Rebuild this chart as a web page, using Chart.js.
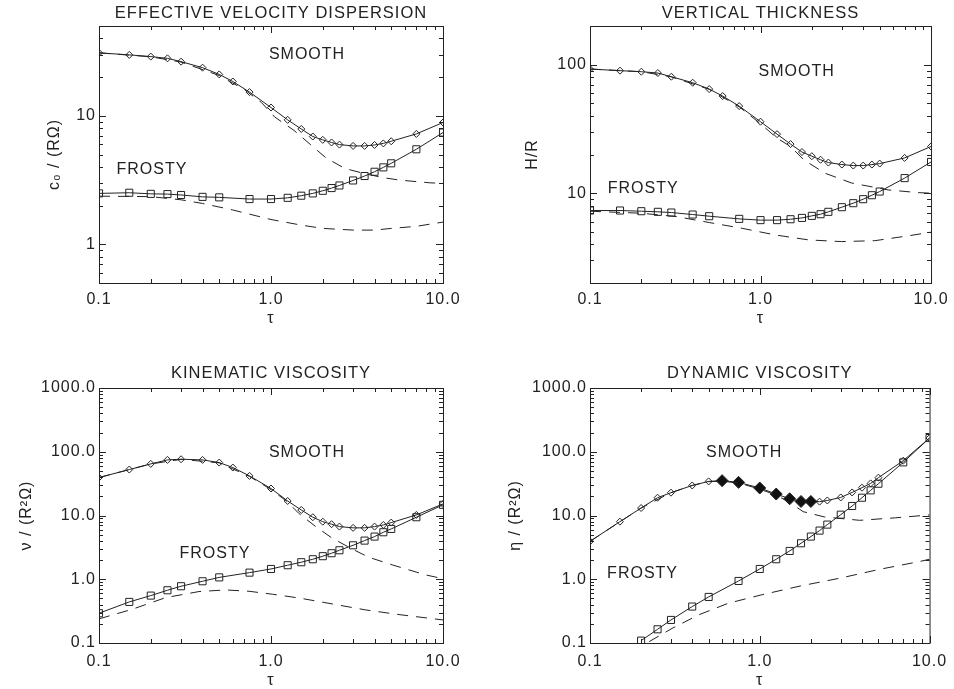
<!DOCTYPE html>
<html>
<head>
<meta charset="utf-8">
<script src="https://cdn.jsdelivr.net/npm/chart.js@4"></script>
<style>
  html, body { margin: 0; padding: 0; background: #fff; overflow: hidden; }
  body { width: 954px; height: 689px; position: relative; }
  canvas { position: absolute; }
</style>
</head>
<body>
<canvas id="vel" width="477" height="335" style="left:0;top:0"></canvas>
<canvas id="thick" width="477" height="335" style="left:477px;top:0"></canvas>
<canvas id="kin" width="477" height="351" style="left:0;top:344px"></canvas>
<canvas id="dyn" width="477" height="351" style="left:477px;top:344px"></canvas>
<script>
// tau samples of the simulations
const tauSmooth = [0.1, 0.15, 0.2, 0.25, 0.3, 0.4, 0.5, 0.6, 0.75, 1.0, 1.25, 1.5, 1.75, 2.0, 2.25, 2.5, 3.0, 3.5, 4.0, 4.5, 5.0, 7.0, 10.0];
const tauFrosty = [0.1, 0.15, 0.2, 0.25, 0.3, 0.4, 0.5, 0.75, 1.0, 1.25, 1.5, 1.75, 2.0, 2.25, 2.5, 3.0, 3.5, 4.0, 4.5, 5.0, 7.0, 10.0];
const tauFrostyDyn = [0.2, 0.25, 0.3, 0.4, 0.5, 0.75, 1.0, 1.25, 1.5, 1.75, 2.0, 2.25, 2.5, 3.0, 3.5, 4.0, 4.5, 5.0, 7.0, 10.0];
const tauFilledDyn = [0.6, 0.75, 1.0, 1.25, 1.5, 1.75, 2.0];

// tick labels
const xMajor = [0.1, 1, 10];
const xLabels = ['0.1', '1.0', '10.0'];
const velMajor = [1, 10];
const velLabels = ['1', '10'];
const thickMajor = [10, 100];
const thickLabels = ['10', '100'];
const viscMajor = [0.1, 1, 10, 100, 1000];
const viscLabels = ['0.1', '1.0', '10.0', '100.0', '1000.0'];

// effective velocity dispersion
const velSmooth = [30.9, 29.8, 28.9, 28.0, 26.4, 23.7, 21.0, 18.5, 15.3, 11.6, 9.3, 7.9, 6.9, 6.5, 6.2, 5.97, 5.83, 5.83, 5.93, 6.1, 6.34, 7.23, 8.87];
const velFrosty = [2.49, 2.52, 2.47, 2.46, 2.42, 2.34, 2.32, 2.25, 2.25, 2.30, 2.39, 2.49, 2.61, 2.74, 2.87, 3.14, 3.40, 3.67, 3.97, 4.27, 5.49, 7.41];
const velSmoothModelTau = [0.1, 0.2, 0.3, 0.5, 0.7, 0.88, 1.05, 1.36, 1.69, 2.09, 2.69, 3.5, 4.5, 5.6, 8.4, 10];
const velSmoothModel = [30.9, 28.8, 26.2, 20.6, 16.0, 12.7, 9.8, 7.7, 6.0, 4.7, 3.89, 3.55, 3.3, 3.16, 3.01, 2.98];
const velFrostyModelTau = [0.1, 0.2, 0.3, 0.4, 0.6, 1.0, 1.5, 2.0, 3.0, 4.0, 5.0, 7.0, 10.0];
const velFrostyModel = [2.37, 2.35, 2.22, 2.08, 1.85, 1.56, 1.41, 1.33, 1.29, 1.29, 1.33, 1.38, 1.49];

// vertical thickness
const thickSmooth = [92.5, 89.8, 88.2, 86.1, 80.6, 72.4, 64.6, 57.0, 47.6, 36.0, 28.8, 24.1, 20.9, 19.4, 18.2, 17.3, 16.7, 16.4, 16.4, 16.7, 17.0, 18.8, 23.1];
const thickFrosty = [7.33, 7.33, 7.24, 7.16, 7.07, 6.82, 6.62, 6.31, 6.17, 6.17, 6.27, 6.42, 6.66, 6.86, 7.16, 7.78, 8.36, 8.98, 9.64, 10.3, 13.1, 17.5];
const thickSmoothModelTau = [0.1, 0.2, 0.3, 0.5, 0.75, 1.0, 1.25, 1.5, 1.79, 2.39, 3.42, 5.6, 8.4, 10];
const thickSmoothModel = [92.5, 88.2, 80.4, 64.3, 47.0, 34.7, 26.8, 23.1, 18.2, 14.3, 12.0, 10.6, 10.1, 10.0];
const thickFrostyModelTau = [0.1, 0.2, 0.32, 0.5, 0.78, 1.22, 1.91, 2.99, 4.68, 7.31, 10];
const thickFrostyModel = [7.24, 6.98, 6.58, 5.91, 5.33, 4.73, 4.33, 4.20, 4.27, 4.65, 4.97];

// kinematic viscosity
const kinSmooth = [39.4, 52.6, 64.5, 74.5, 76.3, 74.5, 67.6, 56.5, 41.8, 26.5, 16.9, 12.2, 9.4, 8.0, 7.3, 6.7, 6.4, 6.4, 6.7, 7.1, 7.74, 10.2, 15.2];
const kinFrosty = [0.293, 0.441, 0.554, 0.672, 0.777, 0.93, 1.07, 1.27, 1.45, 1.66, 1.85, 2.06, 2.30, 2.56, 2.85, 3.41, 4.04, 4.67, 5.46, 6.16, 9.39, 14.7];
const kinSmoothModelTau = [0.1, 0.2, 0.3, 0.5, 0.75, 1.0, 1.25, 1.45, 1.82, 2.27, 2.98, 3.71, 5.07, 7.93, 10];
const kinSmoothModel = [39.4, 64.3, 76.0, 67.0, 41.0, 25.5, 16.3, 10.8, 6.7, 4.4, 2.96, 2.21, 1.68, 1.17, 1.02];
const kinFrostyModelTau = [0.1, 0.156, 0.244, 0.381, 0.545, 0.745, 1.02, 1.45, 2.27, 3.56, 5.55, 10];
const kinFrostyModel = [0.239, 0.338, 0.515, 0.641, 0.68, 0.648, 0.582, 0.509, 0.41, 0.33, 0.279, 0.23];

// dynamic viscosity
const dynSmooth = [3.93, 8.0, 13.1, 19.0, 22.8, 29.6, 34.3, 35.2, 33.1, 27.0, 21.7, 18.3, 16.6, 16.6, 16.5, 17.2, 19.2, 23.0, 27.3, 31.9, 39.2, 72.4, 164];
const dynFrosty = [0.109, 0.164, 0.230, 0.373, 0.528, 0.94, 1.45, 2.06, 2.78, 3.67, 4.67, 5.8, 7.2, 10.3, 14.1, 19.0, 24.8, 31.5, 68.1, 164];
const dynSmoothModelTau = [0.1, 0.2, 0.3, 0.4, 0.5, 0.6, 0.75, 1.0, 1.25, 1.5, 1.8, 2.4, 3.88, 6.3, 10];
const dynSmoothModel = [3.93, 13.1, 22.8, 29.6, 34.0, 34.5, 32.3, 26.0, 20.8, 16.0, 11.5, 9.5, 8.4, 9.2, 10.2];
const dynFrostyModelTau = [0.223, 0.305, 0.436, 0.652, 1.02, 1.74, 2.97, 5.07, 8.67, 10];
const dynFrostyModel = [0.105, 0.170, 0.276, 0.42, 0.568, 0.786, 1.04, 1.43, 1.89, 2.06];

const INK = '#222';
const FAMILY = "'Liberation Sans', Arial, Helvetica, sans-serif";
const FONT = { family: FAMILY, size: 16, weight: 'normal' };
const TITLE_FONT = { family: FAMILY, size: 16.5, weight: 'normal' };

const pts = (taus, vals) => taus.map((t, i) => ({ x: t, y: vals[i] }));
const near = (a, b) => Math.abs(a - b) / b < 1e-6;

// 1..9 x 10^n ticks between min and max
function decadeTicks(min, max) {
  const out = [];
  for (let e = Math.floor(Math.log10(min)); e <= Math.ceil(Math.log10(max)); e++) {
    for (let k = 1; k <= 9; k++) {
      const v = k * Math.pow(10, e);
      if (v >= min * 0.999 && v <= max * 1.001) out.push({ value: v, major: k === 1 });
    }
  }
  return out;
}

// IDL style box: frame and inward ticks on all four sides, plus text notes
function idlBox(notes) {
  return {
    id: 'idlBox',
    beforeDraw(chart) { chart.ctx.letterSpacing = '1px'; },
    afterDraw(chart) {
      const { ctx, chartArea: a, scales: { x, y } } = chart;
      ctx.save();
      ctx.strokeStyle = INK;
      ctx.lineWidth = 1;
      ctx.strokeRect(a.left + 0.5, a.top + 0.5, a.right - a.left, a.bottom - a.top);
      ctx.beginPath();
      x.ticks.forEach(t => {
        const px = Math.round(x.getPixelForValue(t.value)) + 0.5;
        const len = t.major ? 7 : 4;
        ctx.moveTo(px, a.bottom); ctx.lineTo(px, a.bottom - len);
        ctx.moveTo(px, a.top); ctx.lineTo(px, a.top + len);
      });
      y.ticks.forEach(t => {
        const py = Math.round(y.getPixelForValue(t.value)) + 0.5;
        const len = t.major ? 7 : 4;
        ctx.moveTo(a.left, py); ctx.lineTo(a.left + len, py);
        ctx.moveTo(a.right, py); ctx.lineTo(a.right - len, py);
      });
      ctx.stroke();
      ctx.fillStyle = INK;
      ctx.font = `${FONT.size}px ${FAMILY}`;
      ctx.textAlign = 'center';
      ctx.textBaseline = 'middle';
      notes.forEach(n => ctx.fillText(n.text, x.getPixelForValue(n.tau), y.getPixelForValue(n.value)));
      ctx.restore();
      ctx.letterSpacing = '0px';
    }
  };
}

const dashed = data => ({
  data, borderColor: INK, borderWidth: 1, borderDash: [11, 8], pointRadius: 0, fill: false
});
const diamonds = (data, filledTaus = []) => ({
  data, borderColor: INK, borderWidth: 1, pointStyle: 'rectRot',
  pointRadius: c => filledTaus.some(t => near(c.raw.x, t)) ? 6 : 3.5,
  pointBackgroundColor: c => filledTaus.some(t => near(c.raw.x, t)) ? '#111' : 'rgba(0,0,0,0)',
  pointBorderColor: INK, pointBorderWidth: 1, fill: false
});
const squares = data => ({
  data, borderColor: INK, borderWidth: 1, pointStyle: 'rect', pointRadius: 5,
  pointBackgroundColor: 'rgba(0,0,0,0)', pointBorderColor: INK, pointBorderWidth: 1, fill: false
});

function makePanel(id, p) {
  const labelFor = (major, labels) => v => {
    const i = major.findIndex(m => near(v, m));
    return i >= 0 ? labels[i] : '';
  };
  return new Chart(document.getElementById(id), {
    type: 'line',
    data: { datasets: p.datasets },
    options: {
      responsive: false,
      animation: false,
      events: [],
      layout: { padding: { left: 0, right: p.padRight, top: 0, bottom: 0 } },
      plugins: {
        legend: { display: false },
        tooltip: { enabled: false },
        title: {
          display: true, text: p.title, color: INK, font: TITLE_FONT, fullSize: false,
          padding: { top: p.titleTop, bottom: p.titleBottom }
        }
      },
      scales: {
        x: {
          type: 'logarithmic', min: 0.1, max: 10,
          afterBuildTicks: s => { s.ticks = decadeTicks(0.1, 10); },
          afterFit: s => { s.height = p.xAxisHeight; },
          grid: { display: false, drawTicks: false },
          border: { display: false },
          ticks: { autoSkip: false, maxRotation: 0, padding: p.xLabelPad, color: INK, font: FONT,
                   callback: labelFor(xMajor, xLabels) },
          title: { display: true, text: 'τ', color: INK, font: FONT, padding: { top: 0, bottom: p.tauPad } }
        },
        y: {
          type: 'logarithmic', min: p.yMin, max: p.yMax,
          afterBuildTicks: s => { s.ticks = decadeTicks(p.yMin, p.yMax); },
          afterFit: s => { s.width = p.yAxisWidth; },
          grid: { display: false, drawTicks: false },
          border: { display: false },
          ticks: { autoSkip: false, padding: 3, color: INK, font: FONT,
                   callback: labelFor(p.yMajor, p.yLabels) },
          title: { display: true, text: p.yTitle, color: INK, font: FONT, padding: { top: p.yTitlePad, bottom: 0 } }
        }
      }
    },
    plugins: [idlBox(p.notes)]
  });
}

const topRow = { titleTop: 3.6, titleBottom: 2.6, xAxisHeight: 52, xLabelPad: 7.4, tauPad: 6.7 };
const bottomRow = { titleTop: 19.6, titleBottom: 4.6, xAxisHeight: 52, xLabelPad: 8.9, tauPad: 5 };

makePanel('vel', {
  ...topRow, title: 'EFFECTIVE VELOCITY DISPERSION', yTitle: 'c₀ / (RΩ)',
  yMin: 0.5, yMax: 50, yMajor: velMajor, yLabels: velLabels,
  yAxisWidth: 99, padRight: 34, yTitlePad: 45.4,
  notes: [{ text: 'SMOOTH', tau: 1.62, value: 30 }, { text: 'FROSTY', tau: 0.203, value: 3.82 }],
  datasets: [
    dashed(pts(velSmoothModelTau, velSmoothModel)),
    dashed(pts(velFrostyModelTau, velFrostyModel)),
    diamonds(pts(tauSmooth, velSmooth)),
    squares(pts(tauFrosty, velFrosty))
  ]
});

makePanel('thick', {
  ...topRow, title: 'VERTICAL THICKNESS', yTitle: 'H/R',
  yMin: 2, yMax: 200, yMajor: thickMajor, yLabels: thickLabels,
  yAxisWidth: 113, padRight: 20, yTitlePad: 46.4,
  notes: [{ text: 'SMOOTH', tau: 1.63, value: 88 }, { text: 'FROSTY', tau: 0.205, value: 10.8 }],
  datasets: [
    dashed(pts(thickSmoothModelTau, thickSmoothModel)),
    dashed(pts(thickFrostyModelTau, thickFrostyModel)),
    diamonds(pts(tauSmooth, thickSmooth)),
    squares(pts(tauFrosty, thickFrosty))
  ]
});

makePanel('kin', {
  ...bottomRow, title: 'KINEMATIC VISCOSITY', yTitle: 'ν / (R²Ω)',
  yMin: 0.1, yMax: 1000, yMajor: viscMajor, yLabels: viscLabels,
  yAxisWidth: 99, padRight: 34, yTitlePad: 17.4,
  notes: [{ text: 'SMOOTH', tau: 1.62, value: 96 }, { text: 'FROSTY', tau: 0.472, value: 2.5 }],
  datasets: [
    dashed(pts(kinSmoothModelTau, kinSmoothModel)),
    dashed(pts(kinFrostyModelTau, kinFrostyModel)),
    diamonds(pts(tauSmooth, kinSmooth)),
    squares(pts(tauFrosty, kinFrosty))
  ]
});

makePanel('dyn', {
  ...bottomRow, title: 'DYNAMIC VISCOSITY', yTitle: 'η / (R²Ω)',
  yMin: 0.1, yMax: 1000, yMajor: viscMajor, yLabels: viscLabels,
  yAxisWidth: 113, padRight: 20, yTitlePad: 28.9,
  notes: [{ text: 'SMOOTH', tau: 0.81, value: 96 }, { text: 'FROSTY', tau: 0.204, value: 1.21 }],
  datasets: [
    dashed(pts(dynSmoothModelTau, dynSmoothModel)),
    dashed(pts(dynFrostyModelTau, dynFrostyModel)),
    diamonds(pts(tauSmooth, dynSmooth), tauFilledDyn),
    squares(pts(tauFrostyDyn, dynFrosty))
  ]
});
</script>
</body>
</html>
